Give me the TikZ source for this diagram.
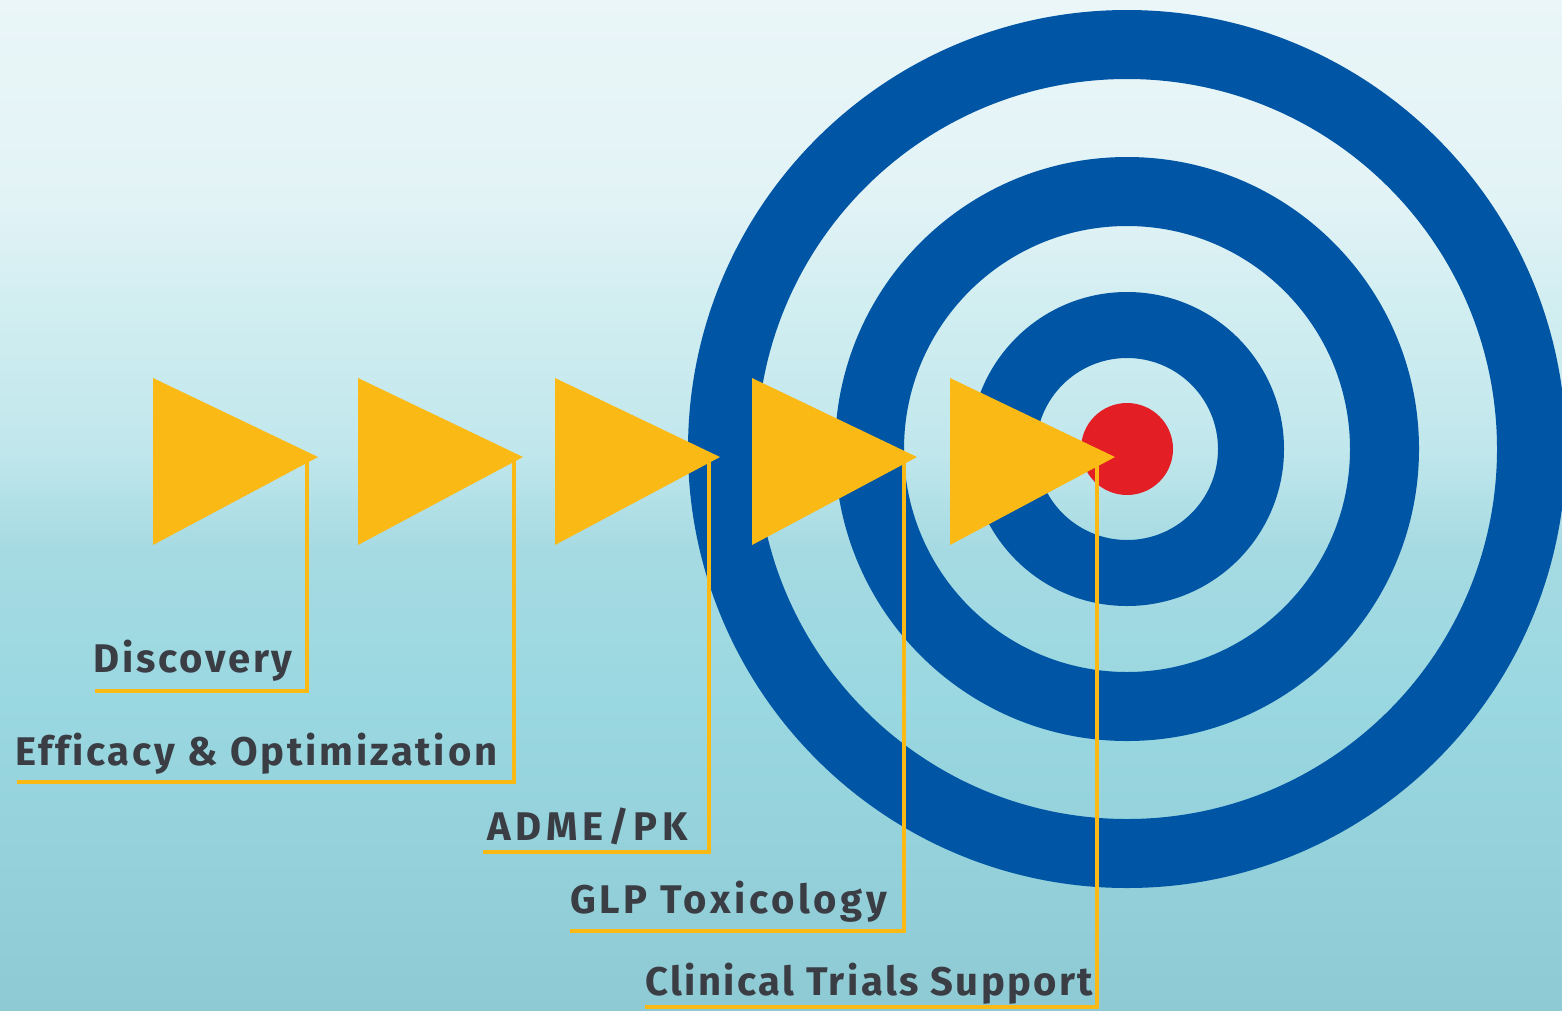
\documentclass[tikz,border=0pt]{standalone}
\usepackage{fontspec}
\setmainfont{Fira Sans}[Ligatures=NoCommon, LetterSpace=7]
\definecolor{ringblue}{HTML}{0055A5}
\definecolor{bullred}{HTML}{E31E24}
\definecolor{flagyellow}{HTML}{FBB915}
\definecolor{txtgray}{HTML}{3B3D44}
\definecolor{bgA}{HTML}{EAF6F8}
\definecolor{bgB}{HTML}{E2F3F6}
\definecolor{bgC}{HTML}{D2EEF1}
\definecolor{bgD}{HTML}{C0E7EC}
\definecolor{bgE}{HTML}{A6DAE2}
\definecolor{bgF}{HTML}{9AD8E1}
\definecolor{bgG}{HTML}{8ECAD4}
\pgfdeclareverticalshading{bgshade}{100bp}{%
  color(0bp)=(bgG); color(25bp)=(bgG); color(40.3bp)=(bgF); color(47.8bp)=(bgE);
  color(52.7bp)=(bgD); color(60.1bp)=(bgC); color(65.1bp)=(bgB); color(75bp)=(bgA); color(100bp)=(bgA)}
\tikzset{
  flag/.style={fill=flagyellow},
  leader/.style={draw=flagyellow, line width=4.5pt, line join=miter},
  stagetext/.style={anchor=base west, inner sep=0pt, text=txtgray,
    font=\fontsize{40}{42}\selectfont\bfseries},
  ring/.style={fill=ringblue, even odd rule}
}
\begin{document}
\begin{tikzpicture}[x=1pt,y=-1pt]
\useasboundingbox (0,0) rectangle (1562,1010);
\shade[shading=bgshade] (0,0) rectangle (1562,1010);
% target
\coordinate (c) at (1127,449);
\fill[ring] (c) circle [radius=439pt] (c) circle [radius=370pt];
\fill[ring] (c) circle [radius=292pt] (c) circle [radius=223pt];
\fill[ring] (c) circle [radius=157pt] (c) circle [radius=91pt];
\fill[bullred] (c) circle [radius=46pt];
% labels
\node[stagetext] (t1) at (93,672) {Discovery};
\node[stagetext] (t2) at (15,765) {Efficacy \& Optimization};
\node[stagetext] (t3) at (487,840) {\addfontfeatures{LetterSpace=12}ADME/PK};
\node[stagetext] (t4) at (570,913) {\addfontfeatures{LetterSpace=9}GLP Toxicology};
\node[stagetext] (t5) at (645,995) {\addfontfeatures{LetterSpace=6}Clinical Trials Support};
% leaders and flags
\foreach \i/\lx/\vx/\uy/\ux in {1/153/307/691/95, 2/358/514/782/17, 3/555/709/852/483, 4/752/904/931/570, 5/950/1097/1007/645}{
  \coordinate (v\i) at (\vx,457);
  \coordinate (u\i) at (\ux,\uy);
  \draw[leader] (v\i) |- (u\i);
  \fill[flag] (\lx,378) -- (\lx,545) -- (\lx+165,457) -- cycle;
}
\end{tikzpicture}
\end{document}
